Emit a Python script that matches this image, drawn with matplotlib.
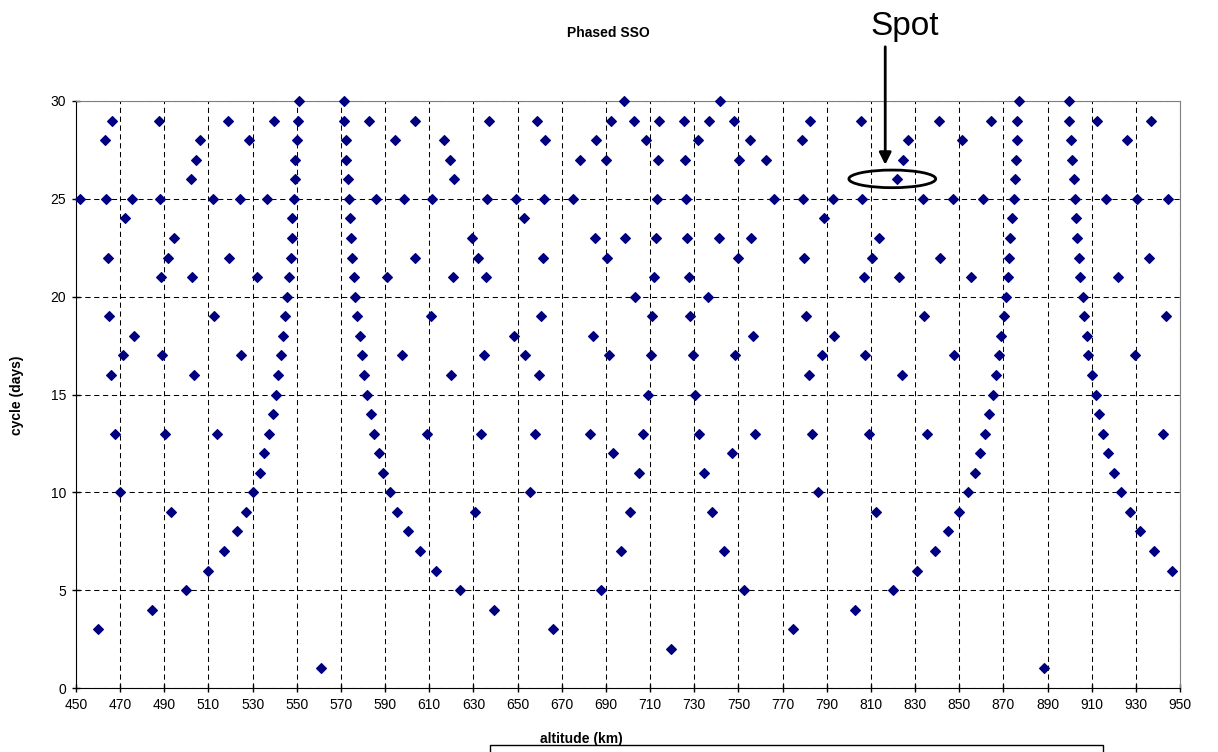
import matplotlib
matplotlib.use("Agg")
import matplotlib.pyplot as plt
from matplotlib.patches import Ellipse, Rectangle

plt.rcParams['font.family'] = ['Liberation Sans', 'DejaVu Sans']

# cycle length in days, one row of phased altitudes (km) per cycle
cycles = list(range(30, 0, -1))
altitudes = [
    [550.9, 571.2, 698.3, 741.6, 876.9, 899.8],
    [466.4, 487.6, 518.8, 539.6, 550.6, 571.6, 582.6, 603.7, 637.1, 658.7, 692.3, 702.6,
     714.1, 725.2, 736.7, 747.9, 782.3, 805.6, 840.8, 864.6, 876.4, 899.8, 912.4, 936.7],
    [463.2, 506.2, 528.2, 550.1, 572.1, 594.3, 616.7, 662.2, 685.3, 708.0, 731.5, 755.1,
     778.8, 826.9, 851.4, 876.0, 900.6, 926.0],
    [504.3, 549.3, 572.5, 619.2, 678.2, 689.9, 713.8, 725.7, 750.2, 762.4, 824.7, 875.7, 901.1],
    [502.0, 549.0, 573.2, 621.1, 822.0, 875.2, 901.8],
    [451.8, 463.7, 475.5, 487.9, 511.9, 524.3, 536.5, 548.7, 573.7, 585.9, 598.4, 611.1,
     636.2, 649.1, 661.9, 674.9, 713.3, 726.2, 765.9, 779.3, 792.8, 806.2, 833.4, 847.0,
     860.6, 874.7, 902.3, 916.4, 930.4, 944.5],
    [472.1, 548.0, 574.2, 652.8, 788.7, 873.9, 903.1],
    [494.4, 547.7, 574.5, 629.3, 685.0, 698.6, 712.6, 726.7, 741.3, 755.7, 813.7, 873.2, 903.4],
    [464.3, 491.6, 519.2, 547.2, 575.0, 603.4, 632.2, 661.4, 690.7, 749.8, 779.8, 810.5,
     841.3, 872.4, 904.2, 936.0],
    [488.4, 502.7, 531.8, 546.5, 575.8, 590.7, 620.8, 635.8, 711.6, 727.7, 806.7, 822.8,
     855.5, 871.9, 904.7, 921.9],
    [545.6, 576.4, 703.1, 736.2, 871.1, 905.9],
    [465.1, 512.4, 544.8, 577.4, 610.6, 660.6, 711.0, 728.2, 780.5, 834.2, 870.3, 906.7, 943.7],
    [476.3, 543.8, 578.5, 648.4, 684.2, 756.4, 793.4, 869.1, 907.7],
    [471.3, 488.9, 524.8, 542.8, 579.4, 597.7, 634.6, 653.5, 691.5, 710.2, 729.3, 748.5,
     788.0, 807.5, 847.8, 867.8, 908.5, 929.6],
    [465.8, 503.5, 541.7, 580.3, 619.7, 659.5, 781.8, 824.1, 866.5, 910.0],
    [540.4, 581.8, 708.9, 730.5, 865.4, 911.8],
    [539.1, 583.4, 863.7, 913.2],
    [467.6, 490.5, 513.9, 537.6, 585.0, 609.1, 633.5, 657.9, 682.9, 706.9, 732.3, 757.7,
     783.4, 809.2, 835.2, 861.8, 915.0, 942.1],
    [535.2, 587.2, 693.1, 747.0, 859.3, 917.3],
    [533.2, 589.1, 704.8, 734.6, 857.2, 920.0],
    [469.8, 530.1, 592.4, 655.7, 785.9, 853.9, 923.1],
    [493.2, 527.0, 595.6, 630.7, 701.0, 738.0, 812.1, 849.8, 927.2],
    [522.8, 600.2, 844.9, 931.8],
    [517.0, 605.9, 697.0, 743.3, 839.2, 938.3],
    [510.0, 613.2, 831.0, 946.5],
    [499.7, 624.1, 687.8, 752.6, 819.8],
    [484.6, 639.5, 802.8],
    [459.8, 666.1, 774.7],
    [719.7],
    [561.0, 888.3],
]

x_ticks = list(range(450, 951, 20))
y_ticks = list(range(0, 31, 5))

xs, ys = [], []
for c, row in zip(cycles, altitudes):
    for a in row:
        xs.append(a)
        ys.append(c)

W, H = 1218, 752
fig = plt.figure(figsize=(W / 100, H / 100), dpi=100)
ax = fig.add_axes([76 / W, 64 / H, 1104 / W, 587 / H])

ax.scatter(xs, ys, marker='D', s=24, color='#000080', zorder=3, clip_on=False)

ax.set_xlim(450, 950)
ax.set_ylim(0, 30)
ax.set_xticks(x_ticks)
ax.set_yticks(y_ticks)
ax.tick_params(direction='inout', length=6, width=1, labelsize=10, pad=4)
ax.grid(True, color='black', linestyle=(0, (5, 3.5)), linewidth=0.75, zorder=1)
for side in ['top', 'right']:
    ax.spines[side].set_color('#808080')
for side in ['left', 'bottom']:
    ax.spines[side].set_color('black')

# the spot marker: ellipse round the 26 day point and a vertical arrow from the label
ax.add_patch(Ellipse((819.7, 26.02), 39.3, 0.9, fill=False, edgecolor='black',
                     linewidth=2, zorder=4))
arrow_x = 81 + (816.5 - 450) * 1104 / 500  # pixel column of the arrow
ax.annotate('', xy=(816.5, 26.6), xycoords='data',
            xytext=(76 + (816.5 - 450) * 1104 / 500, H - 44), textcoords='figure pixels',
            arrowprops=dict(arrowstyle='-|>', color='black', lw=2, mutation_scale=18),
            annotation_clip=False)
fig.text(905 / W, 1 - 27 / H, 'Spot', fontsize=24, ha='center', va='center')

fig.text(608 / W, 1 - 33 / H, 'Phased SSO', fontsize=10, fontweight='bold',
         ha='center', va='center')
fig.text(17 / W, 1 - 395 / H, 'cycle (days)', fontsize=10, fontweight='bold',
         rotation=90, ha='center', va='center')
fig.text(581 / W, 1 - 739 / H, 'altitude (km)', fontsize=10, fontweight='bold',
         ha='center', va='center')

# empty legend box at the bottom edge
fig.patches.append(Rectangle((490 / W, -0.05), (1103 - 490) / W, 0.05 + 7 / H,
                             transform=fig.transFigure, facecolor='white',
                             edgecolor='black', linewidth=1, zorder=5))

fig.savefig('out.png', dpi=100)
